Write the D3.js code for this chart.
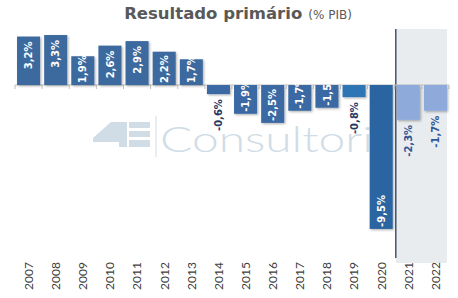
<!DOCTYPE html>
<html>
<head>
<meta charset="utf-8">
<script src="https://cdn.jsdelivr.net/npm/d3@7"></script>
<style>
  body { margin: 0; background: #fff; }
  svg { display: block; font-family: "DejaVu Sans", sans-serif; }
</style>
</head>
<body>
<div id="chart"></div>
<script>
// data
var years = ["2007","2008","2009","2010","2011","2012","2013","2014","2015","2016","2017","2018","2019","2020","2021","2022"];
var values = [3.2, 3.3, 1.9, 2.6, 2.9, 2.2, 1.7, -0.6, -1.9, -2.5, -1.7, -1.5, -0.8, -9.5, -2.3, -1.7];
var forecastYears = ["2021","2022"];

var W = 458, H = 298;
var svg = d3.select("#chart").append("svg").attr("width", W).attr("height", H);

var x = d3.scaleBand().domain(years).range([15, 449]).paddingInner(0.15).paddingOuter(0.075);
var y = d3.scaleLinear().domain([-10, 3.5]).range([236.5, 32]);

function barColor(yr) {
  var n = +yr;
  if (n >= 2021) return "#8eaadb";
  if (n == 2020) return "#2a65a1";
  if (n == 2019) return "#2e75b6";
  if (n >= 2014) return "#3a69a3";
  return "#3d6a9e";
}

var defs = svg.append("defs");
var f = defs.append("filter").attr("id", "sh").attr("x", "-20%").attr("y", "-20%").attr("width", "150%").attr("height", "150%");
f.append("feDropShadow").attr("dx", 1.2).attr("dy", 1.2).attr("stdDeviation", 0.8)
  .attr("flood-color", "#000").attr("flood-opacity", 0.3);

// forecast shading + divider
var fx = x(forecastYears[0]) - 1;
svg.append("rect")
  .attr("x", fx).attr("y", y(3.7))
  .attr("width", x(forecastYears[forecastYears.length - 1]) + x.bandwidth() - fx)
  .attr("height", 263 - y(3.7))
  .attr("fill", "#e9ecef");
svg.append("line")
  .attr("x1", fx).attr("x2", fx).attr("y1", y(3.7)).attr("y2", 258)
  .attr("stroke", "#44546a").attr("stroke-width", 1.5);

// watermark
var wm = svg.append("g").attr("fill", "#d0dce6");
wm.append("polygon").attr("points", "111,122 127,122 127,147 119,147 119,142 93,142 93,138");
wm.append("rect").attr("x", 129).attr("y", 122).attr("width", 21).attr("height", 6);
wm.append("rect").attr("x", 129).attr("y", 131).attr("width", 21).attr("height", 6);
wm.append("rect").attr("x", 129).attr("y", 140).attr("width", 21).attr("height", 7);
wm.append("rect").attr("x", 155.5).attr("y", 116).attr("width", 1).attr("height", 41);
wm.append("text").attr("x", 160).attr("y", 152)
  .attr("textLength", 236).attr("lengthAdjust", "spacingAndGlyphs")
  .style("font-size", "36px").style("font-weight", 300).style("font-family", "Lato, 'Open Sans', sans-serif")
  .text("Consultoria");

// title
var title = svg.append("text").attr("x", 238).attr("y", 19).attr("text-anchor", "middle").attr("fill", "#595959");
title.append("tspan").style("font-size", "16.5px").style("font-weight", "bold").text("Resultado primário");
title.append("tspan").style("font-size", "12px").attr("dx", 6).text("(% PIB)");

// axis
var ax = svg.append("g").attr("transform", "translate(0," + y(0) + ")");
ax.append("line").attr("x1", 15).attr("x2", 449).attr("stroke", "#bfbfbf");
ax.selectAll("line.tk")
  .data(years.concat(["end"]))
  .enter().append("line").attr("class", "tk")
  .attr("x1", function(d, i) { return 15 + i * x.step(); })
  .attr("x2", function(d, i) { return 15 + i * x.step(); })
  .attr("y1", 0).attr("y2", 4)
  .attr("stroke", "#bfbfbf");

// bars
var data = years.map(function(yr, i) { return { year: yr, v: values[i] }; });
svg.append("g").selectAll("rect")
  .data(data).enter().append("rect")
  .attr("x", function(d) { return x(d.year); })
  .attr("width", x.bandwidth())
  .attr("y", function(d) { return y(Math.max(0, d.v)); })
  .attr("height", function(d) { return Math.abs(y(d.v) - y(0)); })
  .attr("fill", function(d) { return barColor(d.year); })
  .attr("filter", "url(#sh)");

// value labels
function fmt(v) { return d3.format(".1f")(v).replace(".", ",").replace("−", "-") + "%"; }
function outside(d) { return Math.abs(d.v) < 1 || +d.year >= 2021; }
svg.append("g").selectAll("text")
  .data(data).enter().append("text")
  .attr("dy", "0.36em")
  .attr("text-anchor", function(d) { return (d.v >= 0 || outside(d)) ? "end" : "start"; })
  .style("font-size", "10px").style("font-weight", "bold")
  .attr("fill", function(d) {
    if (!outside(d)) return "#fff";
    return +d.year >= 2021 ? "#2f5597" : "#1f3864";
  })
  .text(function(d) { return fmt(d.v); })
  .each(function(d) {
    var len = this.getComputedTextLength();
    var cx = x(d.year) + x.bandwidth() / 2, ty;
    if (d.v >= 0) ty = Math.min(y(d.v) + 5, y(0) - 2 - len);
    else if (outside(d)) ty = y(d.v) + 5;
    else ty = y(d.v) - 2;
    d3.select(this).attr("transform", "translate(" + cx + "," + ty + ") rotate(-90)");
  });

// year labels
svg.append("g").selectAll("text")
  .data(years).enter().append("text")
  .attr("transform", function(d) { return "translate(" + (x(d) + x.bandwidth() / 2) + ",290) rotate(-90)"; })
  .attr("dy", "0.36em")
  .attr("text-anchor", "start")
  .style("font-size", "12px")
  .style("font-family", "Lato, sans-serif")
  .attr("fill", "#404040")
  .text(function(d) { return d; });
</script>
</body>
</html>
